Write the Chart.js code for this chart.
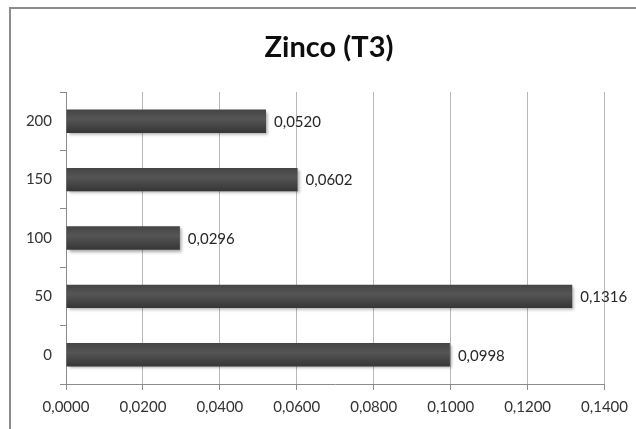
<!DOCTYPE html>
<html>
<head>
<meta charset="utf-8">
<script src="https://cdn.jsdelivr.net/npm/chart.js@4/dist/chart.umd.min.js"></script>
<style>
  html, body { margin: 0; padding: 0; background: #ffffff; }
  #wrap { width: 636px; height: 429px; position: relative; }
</style>
</head>
<body>
<div id="wrap"><canvas id="c" width="636" height="429"></canvas></div>
<script>
// Zinc content per dose level
const doses = ['200', '150', '100', '50', '0'];
const zincValues = [0.0520, 0.0602, 0.0296, 0.1316, 0.0998];
const xTicks = [0, 0.02, 0.04, 0.06, 0.08, 0.10, 0.12, 0.14];
const chartTitle = 'Zinco (T3)';

const FONT = "Lato, 'Open Sans', sans-serif";
const fmt = v => Number(v).toFixed(4).replace('.', ',');

// Frame around the chart block
const framePlugin = {
  id: 'frame',
  beforeDraw(chart) {
    const ctx = chart.ctx;
    ctx.save();
    ctx.strokeStyle = '#8c8c8c';
    ctx.lineWidth = 2;
    ctx.strokeRect(10, 8, 700, 500);
    ctx.restore();
  }
};

// Heading, centred over the whole framed block
const headingPlugin = {
  id: 'heading',
  afterDraw(chart) {
    const ctx = chart.ctx;
    ctx.save();
    ctx.font = 'bold 29px ' + FONT;
    ctx.fillStyle = '#0d0d0d';
    ctx.textAlign = 'center';
    ctx.textBaseline = 'middle';
    ctx.fillText(chartTitle, 329, 48);
    ctx.restore();
  }
};

// Soft drop shadow under the bars
const shadowPlugin = {
  id: 'barShadow',
  beforeDatasetsDraw(chart) {
    const ctx = chart.ctx;
    ctx.save();
    ctx.shadowColor = 'rgba(0,0,0,0.35)';
    ctx.shadowBlur = 3;
    ctx.shadowOffsetX = 2;
    ctx.shadowOffsetY = 2;
  },
  afterDatasetsDraw(chart) {
    chart.ctx.restore();
  }
};

// Value labels to the right of each bar
const valueLabels = {
  id: 'valueLabels',
  afterDatasetsDraw(chart) {
    const ctx = chart.ctx;
    const meta = chart.getDatasetMeta(0);
    const data = chart.data.datasets[0].data;
    ctx.save();
    ctx.font = '15px ' + FONT;
    ctx.fillStyle = '#262626';
    ctx.textAlign = 'left';
    ctx.textBaseline = 'middle';
    meta.data.forEach((el, i) => {
      ctx.fillText(fmt(data[i]), el.x + 8, el.y + 1);
    });
    ctx.restore();
  }
};

function barFill(context) {
  const chart = context.chart;
  const y = chart.scales.y;
  if (!y || context.dataIndex === undefined) return '#4a4a4a';
  const c = y.getPixelForValue(context.dataIndex);
  if (!isFinite(c)) return '#4a4a4a';
  const g = chart.ctx.createLinearGradient(0, c - 12, 0, c + 12);
  g.addColorStop(0, '#444444');
  g.addColorStop(0.4, '#555555');
  g.addColorStop(1, '#353535');
  return g;
}

new Chart(document.getElementById('c'), {
  type: 'bar',
  data: {
    labels: doses,
    datasets: [{
      data: zincValues,
      backgroundColor: barFill,
      borderWidth: 0,
      barPercentage: 0.4,
      categoryPercentage: 1.0
    }]
  },
  plugins: [framePlugin, shadowPlugin, valueLabels, headingPlugin],
  options: {
    indexAxis: 'y',
    responsive: false,
    animation: false,
    layout: { padding: { left: 0, right: 31, top: 92, bottom: 0 } },
    plugins: {
      legend: { display: false },
      tooltip: { enabled: false },
      title: { display: false }
    },
    scales: {
      x: {
        min: 0,
        max: 0.14,
        afterBuildTicks(scale) {
          scale.ticks = xTicks.map(v => ({ value: v }));
        },
        afterFit(scale) { scale.height = 45; },
        grid: {
          color: '#b8b8b8',
          lineWidth: 1,
          tickLength: 6,
          tickColor: '#8c8c8c'
        },
        border: { color: '#8c8c8c', width: 1 },
        ticks: {
          color: '#333333',
          font: { family: FONT, size: 15 },
          padding: 8,
          maxRotation: 0,
          callback: v => fmt(v)
        }
      },
      y: {
        afterFit(scale) { scale.width = 66; },
        grid: {
          drawOnChartArea: false,
          offset: true,
          tickLength: 6,
          color: '#8c8c8c'
        },
        border: { color: '#8c8c8c', width: 1 },
        ticks: {
          color: '#333333',
          font: { family: FONT, size: 15 },
          padding: 8
        }
      }
    }
  }
});
</script>
</body>
</html>
